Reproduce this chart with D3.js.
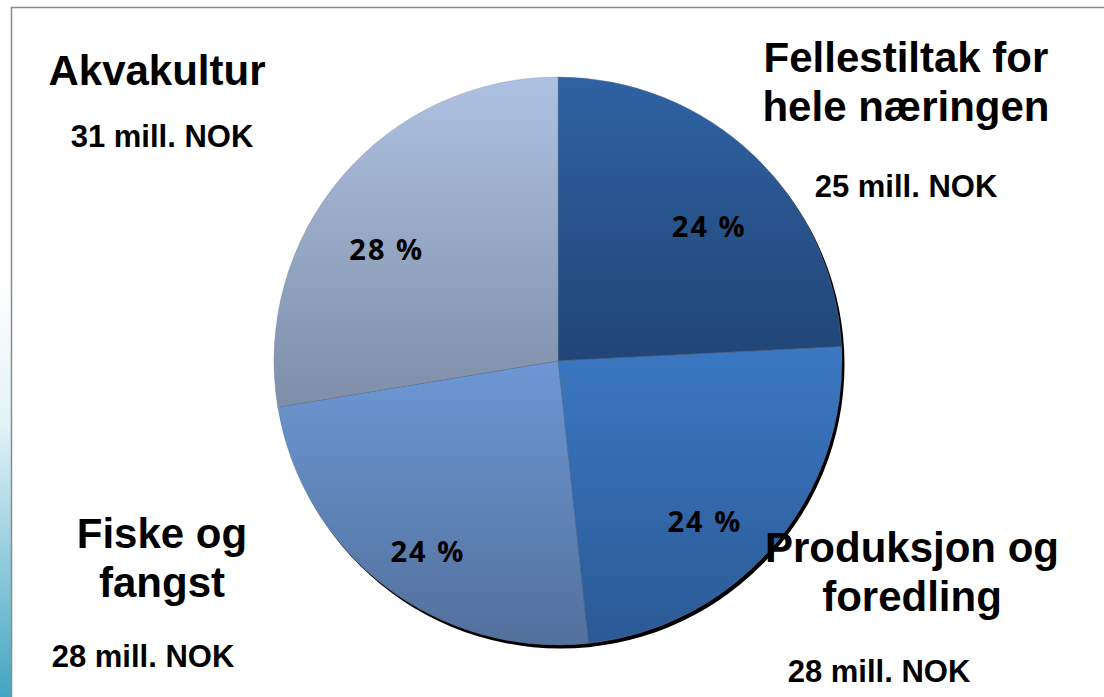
<!DOCTYPE html>
<html>
<head>
<meta charset="utf-8">
<script src="https://d3js.org/d3.v7.min.js"></script>
<style>
  body { margin: 0; background: #fff; }
  svg { display: block; }
</style>
</head>
<body>
<script>
    const [width, height] = [1104, 697]

    // data
    const categories = ["Fellestiltak for hele næringen", "Produksjon og foredling", "Fiske og fangst", "Akvakultur"];
    const titleLines = [["Fellestiltak for", "hele næringen"], ["Produksjon og", "foredling"], ["Fiske og", "fangst"], ["Akvakultur"]];
    const amounts = [25, 28, 28, 31];            // mill. NOK
    const shares = [24.2, 24.1, 24.1, 27.6];      // slice share, percent
    const topColors = ["#2f62a3", "#3b78c2", "#6d98d4", "#afc1e2"];
    const bottomColors = ["#214576", "#2b5996", "#52709c", "#7e8ea8"];

    const cx = 558, cy = 361, r = 284;

    const svg = d3.select("body").append("svg")
        .attr("width", width)
        .attr("height", height);

    const defs = svg.append("defs");

    // left decorative strip
    const strip = defs.append("linearGradient").attr("id", "strip")
        .attr("x1", 0).attr("y1", 0).attr("x2", 0).attr("y2", 1);
    strip.append("stop").attr("offset", "0%").attr("stop-color", "#ffffff");
    strip.append("stop").attr("offset", "35%").attr("stop-color", "#e2f2f7");
    strip.append("stop").attr("offset", "100%").attr("stop-color", "#42a5c1");
    svg.append("rect").attr("x", 0).attr("y", 280).attr("width", 11).attr("height", height - 280)
        .attr("fill", "url(#strip)");

    // frame
    svg.append("path")
        .attr("d", `M11.5,${height} L11.5,7.5 L${width},7.5`)
        .attr("fill", "none")
        .attr("stroke", "#8a8a8a")
        .attr("stroke-width", 1.5);

    // slice gradients
    categories.forEach((c, i) => {
        const g = defs.append("linearGradient").attr("id", "g" + i)
            .attr("x1", 0).attr("y1", 0).attr("x2", 0).attr("y2", 1);
        g.append("stop").attr("offset", "0%").attr("stop-color", topColors[i]);
        g.append("stop").attr("offset", "100%").attr("stop-color", bottomColors[i]);
    });

    const pie = d3.pie().sort(null).value(d => d.share);
    const rows = categories.map((c, i) => ({ name: c, share: shares[i], amount: amounts[i], lines: titleLines[i] }));
    const arcs = pie(rows);
    const arc = d3.arc().innerRadius(0).outerRadius(r);
    const labelArc = d3.arc().innerRadius(205).outerRadius(205);

    const chart = svg.append("g").attr("transform", `translate(${cx},${cy})`);

    // shadow
    chart.append("circle")
        .attr("cx", 2.5).attr("cy", 3.5).attr("r", r)
        .attr("fill", "#000");

    chart.selectAll("path.slice")
        .data(arcs)
        .enter()
        .append("path")
        .attr("class", "slice")
        .attr("d", arc)
        .attr("fill", (d, i) => `url(#g${i})`)
        .attr("stroke", "#6f7f99")
        .attr("stroke-width", 0.6)
        .attr("stroke-opacity", 0.6);

    // percent labels
    const nudge = [[10, 14], [-9, 27], [-6, 27], [-15, 21]];
    chart.selectAll("text.pct")
        .data(arcs)
        .enter()
        .append("text")
        .attr("class", "pct")
        .attr("x", (d, i) => labelArc.centroid(d)[0] + nudge[i][0])
        .attr("y", (d, i) => labelArc.centroid(d)[1] + nudge[i][1] + 10.5)
        .attr("text-anchor", "middle")
        .style("font-family", "Open Sans")
        .style("font-weight", "bold")
        .style("font-size", "29px")
        .style("letter-spacing", "2px")
        .style("fill", "#000")
        .text(d => Math.round(d.data.share) + " %");

    // category labels outside the pie
    const titlePos = [
        { x: 906, y: 72, ay: 197, ax: 906 },
        { x: 912, y: 562, ay: 682, ax: 879 },
        { x: 162, y: 548, ay: 667, ax: 143 },
        { x: 157, y: 85, ay: 147, ax: 162 }
    ];

    const labels = svg.selectAll("g.lab")
        .data(rows)
        .enter()
        .append("g")
        .attr("class", "lab")
        .style("font-family", "Liberation Sans, Arial")
        .style("font-weight", "bold")
        .style("fill", "#000");

    labels.each(function(d, i) {
        const g = d3.select(this);
        const p = titlePos[i];
        d.lines.forEach((line, j) => {
            g.append("text")
                .attr("x", p.x)
                .attr("y", p.y + j * 49)
                .attr("text-anchor", "middle")
                .style("font-size", "42px")
                .text(line);
        });
        g.append("text")
            .attr("x", p.ax)
            .attr("y", p.ay)
            .attr("text-anchor", "middle")
            .style("font-size", "31px")
            .text(d.amount + " mill. NOK");
    });
</script>
</body>
</html>
